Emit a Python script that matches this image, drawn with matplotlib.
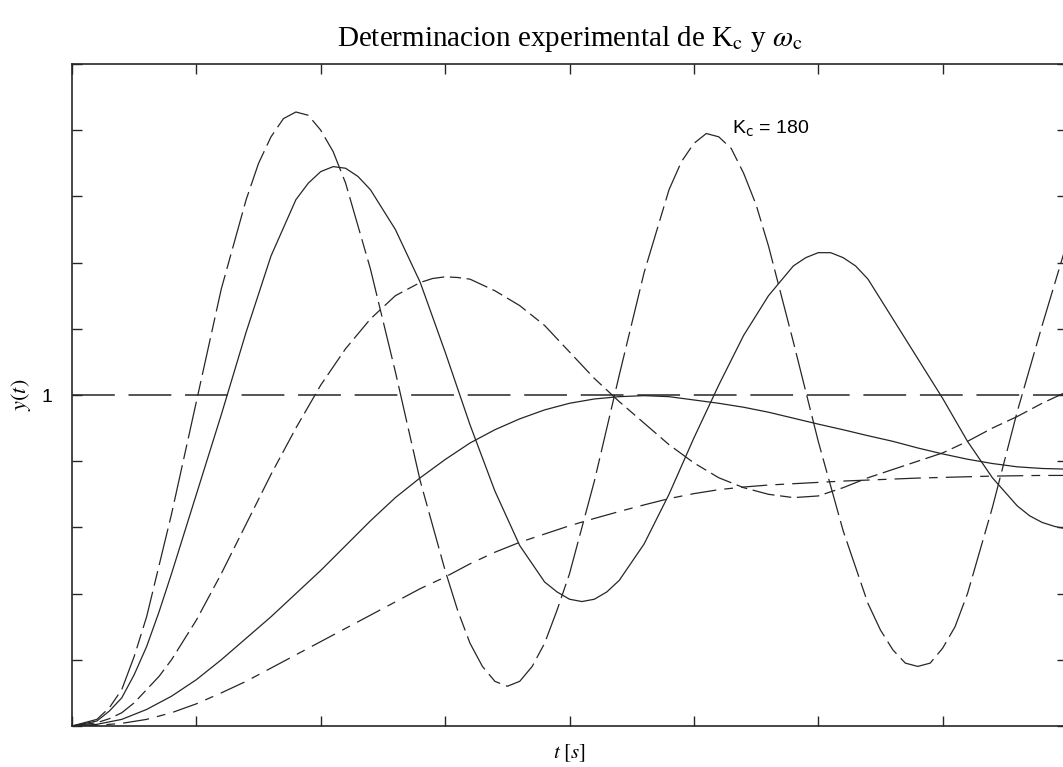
import matplotlib
matplotlib.use("Agg")
import matplotlib.pyplot as plt

# Kc = 180, near sustained oscillation (times in s)
T_KC180 = [0.0, 0.2, 0.3, 0.4, 0.5, 0.6, 0.8, 1.0, 1.2, 1.4, 1.5, 1.6, 1.7, 1.8,
           1.9, 2.0, 2.1, 2.2, 2.4, 2.6, 2.8, 3.0, 3.1, 3.2, 3.3, 3.4, 3.5, 3.6,
           3.7, 3.8, 3.9, 4.0, 4.2, 4.4, 4.6, 4.8, 4.9, 5.0, 5.1, 5.2, 5.3, 5.4,
           5.5, 5.6, 5.8, 6.0, 6.2, 6.4, 6.5, 6.6, 6.7, 6.8, 6.9, 7.0, 7.1, 7.2,
           7.4, 7.6, 7.8, 8.0]
Y_KC180 = [0.0, 0.02, 0.055, 0.11, 0.21, 0.33, 0.64, 0.98, 1.32, 1.59, 1.70, 1.78, 1.835, 1.855,
           1.845, 1.80, 1.735, 1.64, 1.38, 1.07, 0.74, 0.47, 0.35, 0.25, 0.18, 0.135, 0.12, 0.135,
           0.18, 0.25, 0.35, 0.46, 0.74, 1.06, 1.37, 1.62, 1.705, 1.76, 1.79, 1.78, 1.745, 1.67,
           1.575, 1.45, 1.16, 0.86, 0.59, 0.37, 0.29, 0.23, 0.19, 0.18, 0.19, 0.235, 0.30, 0.40,
           0.66, 0.95, 1.21, 1.46]

T_SOLID_HI = [0.0, 0.2, 0.3, 0.4, 0.5, 0.6, 0.7, 0.8, 1.0, 1.2, 1.4, 1.6, 1.8, 1.9,
              2.0, 2.1, 2.2, 2.3, 2.4, 2.6, 2.8, 3.0, 3.2, 3.4, 3.6, 3.8, 3.9, 4.0,
              4.1, 4.2, 4.3, 4.4, 4.6, 4.8, 5.0, 5.2, 5.4, 5.6, 5.8, 5.9, 6.0, 6.1,
              6.2, 6.3, 6.4, 6.6, 6.8, 7.0, 7.2, 7.4, 7.6, 7.7, 7.8, 7.9, 8.0]
Y_SOLID_HI = [0.0, 0.015, 0.045, 0.085, 0.155, 0.24, 0.345, 0.46, 0.70, 0.94, 1.19, 1.42, 1.59, 1.64,
              1.675, 1.69, 1.685, 1.66, 1.62, 1.50, 1.34, 1.13, 0.91, 0.71, 0.545, 0.435, 0.405, 0.383,
              0.376, 0.383, 0.405, 0.44, 0.55, 0.70, 0.87, 1.03, 1.18, 1.30, 1.39, 1.415, 1.43, 1.43,
              1.415, 1.39, 1.35, 1.23, 1.11, 0.99, 0.86, 0.75, 0.665, 0.635, 0.615, 0.603, 0.595]

T_DASHDOT = [0.0, 0.2, 0.3, 0.4, 0.5, 0.6, 0.7, 0.8, 1.0, 1.2, 1.4, 1.6, 1.8, 2.0,
             2.2, 2.4, 2.6, 2.8, 2.9, 3.0, 3.1, 3.2, 3.4, 3.6, 3.8, 4.0, 4.2, 4.4,
             4.6, 4.8, 5.0, 5.2, 5.4, 5.6, 5.8, 6.0, 6.2, 6.4, 6.6, 6.8, 7.0, 7.2,
             7.4, 7.6, 7.8, 8.0]
Y_DASHDOT = [0.0, 0.01, 0.022, 0.04, 0.07, 0.11, 0.15, 0.20, 0.32, 0.46, 0.61, 0.76, 0.90, 1.03,
             1.14, 1.23, 1.30, 1.34, 1.352, 1.357, 1.355, 1.35, 1.315, 1.27, 1.21, 1.13, 1.05, 0.98,
             0.915, 0.85, 0.795, 0.75, 0.72, 0.70, 0.69, 0.695, 0.72, 0.75, 0.775, 0.80, 0.825, 0.86,
             0.90, 0.935, 0.975, 1.01]

T_SOLID_LO = [0.0, 0.2, 0.4, 0.6, 0.8, 1.0, 1.2, 1.4, 1.6, 1.8, 2.0, 2.2, 2.4, 2.6,
              2.8, 3.0, 3.2, 3.4, 3.6, 3.8, 4.0, 4.2, 4.4, 4.6, 4.8, 5.0, 5.2, 5.4,
              5.6, 5.8, 6.0, 6.2, 6.4, 6.6, 6.8, 7.0, 7.2, 7.4, 7.6, 7.8, 8.0]
Y_SOLID_LO = [0.0, 0.005, 0.02, 0.05, 0.09, 0.14, 0.20, 0.265, 0.33, 0.40, 0.47, 0.545, 0.62, 0.69,
              0.75, 0.805, 0.855, 0.895, 0.928, 0.955, 0.975, 0.988, 0.995, 0.998, 0.995, 0.985, 0.975, 0.963,
              0.948, 0.93, 0.912, 0.895, 0.877, 0.86, 0.84, 0.822, 0.806, 0.793, 0.783, 0.778, 0.776]

T_SLOW = T_SOLID_LO
Y_SLOW = [0.0, 0.002, 0.008, 0.02, 0.04, 0.067, 0.10, 0.135, 0.175, 0.215, 0.255, 0.295, 0.335, 0.375,
          0.415, 0.45, 0.49, 0.525, 0.555, 0.58, 0.605, 0.627, 0.648, 0.668, 0.687, 0.702, 0.714, 0.722,
          0.728, 0.732, 0.736, 0.74, 0.743, 0.746, 0.749, 0.751, 0.753, 0.755, 0.756, 0.757, 0.757]

SETPOINT = 1.0
X_TICKS = [0, 1, 2, 3, 4, 5, 6, 7, 8]
Y_TICKS = [0.0, 0.2, 0.4, 0.6, 0.8, 1.0, 1.2, 1.4, 1.6, 1.8, 2.0]

INK = "#262626"

fig = plt.figure(figsize=(10.63, 7.67), dpi=100)
ax = fig.add_axes([72 / 1063, 41 / 767, 995 / 1063, 662 / 767])

ax.axhline(SETPOINT, color=INK, lw=1.1, linestyle=(0, (28, 9)))
ax.plot(T_KC180, Y_KC180, color=INK, lw=0.9, linestyle=(0, (30, 5, 12, 5)))
ax.plot(T_SOLID_HI, Y_SOLID_HI, color=INK, lw=0.9, linestyle="-")
ax.plot(T_DASHDOT, Y_DASHDOT, color=INK, lw=0.9, linestyle=(0, (18, 4.5, 9, 4.5)))
ax.plot(T_SOLID_LO, Y_SOLID_LO, color=INK, lw=0.9, linestyle="-")
ax.plot(T_SLOW, Y_SLOW, color=INK, lw=0.9, linestyle=(0, (21, 6.5, 7, 6.5)))

ax.set_xlim(0, 8)
ax.set_ylim(0, 2)
ax.set_xticks(X_TICKS)
ax.set_xticklabels([""] * len(X_TICKS))
ax.set_yticks(Y_TICKS)
ax.set_yticklabels(["1" if v == 1.0 else "" for v in Y_TICKS],
                   fontfamily="Liberation Sans", fontsize=14)
ax.tick_params(direction="in", length=7.5, width=1.0, color=INK,
               top=True, right=True)
ax.tick_params(axis="y", pad=14)
ax.tick_params(axis="x", pad=2)
for s in ax.spines.values():
    s.set_color(INK)
    s.set_linewidth(1.2)

ax.text(5.31, 1.79, r"K$_\mathrm{c}$ = 180", fontfamily="Liberation Sans",
        fontsize=14, color="black", math_fontfamily="dejavusans")

ax.set_title(r"Determinacion experimental de K$_\mathrm{c}$ y $\omega_\mathrm{c}$",
             fontfamily="Liberation Serif", fontsize=21, math_fontfamily="stix",
             pad=13)
ax.set_xlabel(r"$t\ [s]$", fontsize=15, math_fontfamily="stix", labelpad=10)
ax.set_ylabel(r"$y(t)$", fontsize=16, math_fontfamily="stix", labelpad=6)

fig.savefig("out.png", dpi=100)
